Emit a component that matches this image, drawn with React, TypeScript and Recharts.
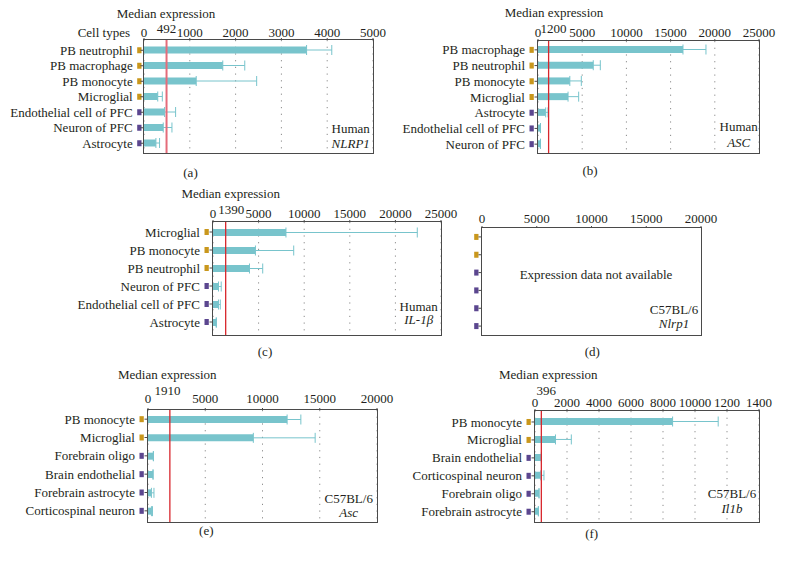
import React from 'react';
import { BarChart, Bar, XAxis, YAxis, CartesianGrid, ReferenceLine, ErrorBar } from 'recharts';

const FONT = '"Liberation Serif", "Times New Roman", serif';
const INK = '#231f20';
const BAR = '#78c4cc';
const GOLD = '#c9971c';
const PURPLE = '#5b468f';
const BORDER = '#4a4a4a';

// ---- (a) Human NLRP1 ----
const aCells = ['PB neutrophil', 'PB macrophage', 'PB monocyte', 'Microglial', 'Endothelial cell of PFC', 'Neuron of PFC', 'Astrocyte'];
const aMedian = [3550, 1720, 1140, 300, 450, 420, 260];
const aUpper = [4100, 2200, 2460, 400, 690, 610, 340];
const aGroup = ['blood', 'blood', 'blood', 'blood', 'brain', 'brain', 'brain'];
const aTicks = [0, 1000, 2000, 3000, 4000, 5000];
const aThreshold = 492;

// ---- (b) Human ASC ----
const bCells = ['PB macrophage', 'PB neutrophil', 'PB monocyte', 'Microglial', 'Astrocyte', 'Endothelial cell of PFC', 'Neuron of PFC'];
const bMedian = [16400, 6250, 3600, 3400, 870, 280, 280];
const bUpper = [19000, 7050, 4900, 4600, 1130, 280, 280];
const bGroup = ['blood', 'blood', 'blood', 'blood', 'brain', 'brain', 'brain'];
const bTicks = [0, 5000, 10000, 15000, 20000, 25000];
const bThreshold = 1200;

// ---- (c) Human IL-1β ----
const cCells = ['Microglial', 'PB monocyte', 'PB neutrophil', 'Neuron of PFC', 'Endothelial cell of PFC', 'Astrocyte'];
const cMedian = [8000, 4650, 4000, 600, 600, 360];
const cUpper = [22400, 8850, 5450, 900, 800, 360];
const cGroup = ['blood', 'blood', 'blood', 'brain', 'brain', 'brain'];
const cTicks = [0, 5000, 10000, 15000, 20000, 25000];
const cThreshold = 1390;

// ---- (d) C57BL/6 Nlrp1 (no data) ----
const dSlots = ['1', '2', '3', '4', '5', '6'];
const dGroup = ['blood', 'blood', 'brain', 'brain', 'brain', 'brain'];
const dTicks = [0, 5000, 10000, 15000, 20000];

// ---- (e) C57BL/6 Asc ----
const eCells = ['PB monocyte', 'Microglial', 'Forebrain oligo', 'Brain endothelial', 'Forebrain astrocyte', 'Corticospinal neuron'];
const eMedian = [12150, 9200, 470, 440, 300, 300];
const eUpper = [13350, 14600, 470, 440, 520, 390];
const eGroup = ['blood', 'blood', 'brain', 'brain', 'brain', 'brain'];
const eTicks = [0, 5000, 10000, 15000, 20000];
const eThreshold = 1910;

// ---- (f) C57BL/6 Il1b ----
const fCells = ['PB monocyte', 'Microglial', 'Brain endothelial', 'Corticospinal neuron', 'Forebrain oligo', 'Forebrain astrocyte'];
const fMedian = [8600, 1280, 400, 360, 250, 210];
const fUpper = [11450, 2270, 400, 560, 250, 210];
const fGroup = ['blood', 'blood', 'brain', 'brain', 'brain', 'brain'];
const fTicks = [0, 2000, 4000, 6000, 8000, 10000, 12000, 14000];
const fTickLabels = ['0', '2000', '4000', '6000', '8000', '10000', '1200', '1400'];
const fThreshold = 396;

type PanelProps = {
  keys: string[];
  cells?: string[];
  median?: number[];
  upper?: number[];
  group: string[];
  ticks: number[];
  tickLabels?: string[];
  threshold?: number;
  left: number;
  top: number;
  yw: number;
  plotW: number;
  plotH: number;
  tickGap: number;
  padTop?: number;
  padBottom?: number;
  refOffset?: number;
  refDx?: number;
  refColor?: string;
  refWidth?: number;
  grid?: boolean;
  sqShift?: number;
};

const Panel = (p: PanelProps) => {
  const mr = 22;
  const xh = 40;
  const mb = 3;
  const W = p.yw + p.plotW + mr;
  const H = xh + p.plotH + mb;
  const max = p.ticks[p.ticks.length - 1];
  const rows = p.keys.map((k, i) => {
    const m = p.median ? p.median[i] : null;
    const u = p.upper ? p.upper[i] : null;
    return {
      key: k,
      median: m,
      err: m != null && u != null ? [0, Math.max(0, u - m)] : [0, 0],
    };
  });
  const sh = p.sqShift ?? 0;
  const renderTick = (t: any) => {
    const idx = p.keys.indexOf(String(t.payload.value));
    const g = p.group[idx];
    const y = t.y;
    const x0 = p.yw;
    return (
      <g>
        {p.cells ? (
          <text x={x0 - 13 + sh} y={y} dy="0.35em" textAnchor="end" fontSize={13} fontFamily={FONT} fill={INK}>
            {p.cells[idx]}
          </text>
        ) : null}
        <rect x={x0 - 8.5 + sh} y={y - 3} width={4.3} height={6} fill={g === 'blood' ? GOLD : PURPLE} />
        <line x1={x0 - 3.5} x2={x0} y1={y} y2={y} stroke={BORDER} strokeWidth={1} />
      </g>
    );
  };
  const bw = 1.3;
  return (
    <div style={{ position: 'absolute', left: p.left, top: p.top, width: W, height: H }}>
      <BarChart
        width={W}
        height={H}
        data={rows}
        layout="vertical"
        margin={{ top: 0, right: mr, bottom: mb, left: 0 }}
      >
        {p.grid !== false ? (
          <CartesianGrid horizontal={false} stroke="#8a8a8a" strokeDasharray="1.2 5.5" />
        ) : null}
        <XAxis
          type="number"
          orientation="top"
          domain={[0, max]}
          allowDataOverflow={true}
          ticks={p.ticks}
          interval={0}
          height={xh}
          axisLine={false}
          tickSize={2}
          tickMargin={p.tickGap - 2}
          tickLine={{ stroke: BORDER }}
          tick={{ fontSize: 13, fontFamily: FONT, fill: INK }}
          tickFormatter={(v: number) => {
            if (p.tickLabels) {
              const i = p.ticks.indexOf(v);
              return i >= 0 ? p.tickLabels[i] : String(v);
            }
            return String(v);
          }}
        />
        <YAxis
          type="category"
          dataKey="key"
          width={p.yw}
          axisLine={false}
          tickLine={false}
          interval={0}
          padding={{ top: p.padTop ?? 0, bottom: p.padBottom ?? 0 }}
          tick={renderTick}
        />
        <Bar dataKey="median" fill={BAR} barSize={7} isAnimationActive={false}>
          {p.median ? (
            <ErrorBar dataKey="err" direction="x" width={5} stroke={BAR} strokeWidth={1} isAnimationActive={false} />
          ) : null}
        </Bar>
        {p.threshold != null ? (
          <ReferenceLine
            x={p.threshold}
            stroke={p.refColor ?? '#d8262c'}
            strokeWidth={p.refWidth ?? 1.3}
            ifOverflow="visible"
            label={{
              value: String(p.threshold),
              position: 'top',
              offset: p.refOffset ?? 8,
              dx: p.refDx ?? 0,
              fontSize: 13,
              fontFamily: FONT,
              fill: INK,
            }}
          />
        ) : null}
      </BarChart>
      <div
        style={{
          position: 'absolute',
          left: p.yw - bw / 2,
          top: xh - bw / 2,
          width: p.plotW + bw,
          height: p.plotH + bw,
          border: `${bw}px solid ${BORDER}`,
          boxSizing: 'border-box',
          pointerEvents: 'none',
        }}
      />
    </div>
  );
};

type Note = { t: string; x: number; y: number; anchor?: string; italic?: boolean };

const notes: Note[] = [
  { t: 'Median expression', x: 166, y: 17.5 },
  { t: 'Cell types', x: 130, y: 36.5, anchor: 'end' },
  { t: 'Human', x: 350.7, y: 133 },
  { t: 'NLRP1', x: 350.7, y: 148.3, italic: true },
  { t: '(a)', x: 190.5, y: 176.5 },

  { t: 'Median expression', x: 554, y: 17.3 },
  { t: 'Human', x: 738.7, y: 130.7 },
  { t: 'ASC', x: 738.7, y: 146.7, italic: true },
  { t: '(b)', x: 590, y: 174.5 },

  { t: 'Median expression', x: 230.7, y: 197.7 },
  { t: 'Human', x: 418.7, y: 310.7 },
  { t: 'IL-1β', x: 418.7, y: 324.3, italic: true },
  { t: '(c)', x: 265, y: 356 },

  { t: 'Expression data not available', x: 596, y: 279 },
  { t: 'C57BL/6', x: 674, y: 314 },
  { t: 'Nlrp1', x: 674, y: 327.7, italic: true },
  { t: '(d)', x: 592.3, y: 356 },

  { t: 'Median expression', x: 167.3, y: 379.3 },
  { t: 'C57BL/6', x: 348.7, y: 502.7 },
  { t: 'Asc', x: 348.7, y: 516.7, italic: true },
  { t: '(e)', x: 206.3, y: 535 },

  { t: 'Median expression', x: 548.3, y: 379.3 },
  { t: 'C57BL/6', x: 732, y: 498.3 },
  { t: 'Il1b', x: 732, y: 513.3, italic: true },
  { t: '(f)', x: 591.7, y: 537.7 },
];

export default function App() {
  return (
    <div style={{ position: 'absolute', left: 0, top: 0, width: 792, height: 566, background: '#ffffff', overflow: 'hidden' }}>
      <Panel keys={aCells} cells={aCells} median={aMedian} upper={aUpper} group={aGroup} ticks={aTicks}
        threshold={aThreshold} left={0} top={0} yw={144} plotW={229} plotH={113} tickGap={3.5}
        padTop={2.5} padBottom={2} refOffset={6.7} refColor="#e46c7a" refWidth={2} sqShift={1.7} />
      <Panel keys={bCells} cells={bCells} median={bMedian} upper={bUpper} group={bGroup} ticks={bTicks}
        threshold={bThreshold} left={400} top={1} yw={138} plotW={221} plotH={112} tickGap={4}
        padTop={1} padBottom={1} refOffset={8.3} refDx={5} />
      <Panel keys={cCells} cells={cCells} median={cMedian} upper={cUpper} group={cGroup} ticks={cTicks}
        threshold={cThreshold} left={0} top={182} yw={213} plotW={228} plotH={113} tickGap={4.5}
        padTop={1} padBottom={4} refOffset={7.7} refDx={5.6} />
      <Panel keys={dSlots} group={dGroup} ticks={dTicks} left={400} top={188} yw={82} plotW={219} plotH={107}
        tickGap={5} grid={false} sqShift={0.7} />
      <Panel keys={eCells} cells={eCells} median={eMedian} upper={eUpper} group={eGroup} ticks={eTicks}
        threshold={eThreshold} left={0} top={370} yw={148} plotW={229} plotH={112} tickGap={7.4}
        padBottom={2} refOffset={15} refDx={-2.4} />
      <Panel keys={fCells} cells={fCells} median={fMedian} upper={fUpper} group={fGroup} ticks={fTicks}
        tickLabels={fTickLabels} threshold={fThreshold} left={400} top={371} yw={135} plotW={224} plotH={111}
        tickGap={4} padTop={2} padBottom={1.3} refOffset={16} refDx={5} />
      <svg width={792} height={566} style={{ position: 'absolute', left: 0, top: 0, pointerEvents: 'none' }}>
        {notes.map((n, i) => (
          <text
            key={i}
            x={n.x}
            y={n.y}
            textAnchor={n.anchor ?? 'middle'}
            fontSize={13}
            fontFamily={FONT}
            fontStyle={n.italic ? 'italic' : 'normal'}
            fill={INK}
          >
            {n.t}
          </text>
        ))}
      </svg>
    </div>
  );
}
